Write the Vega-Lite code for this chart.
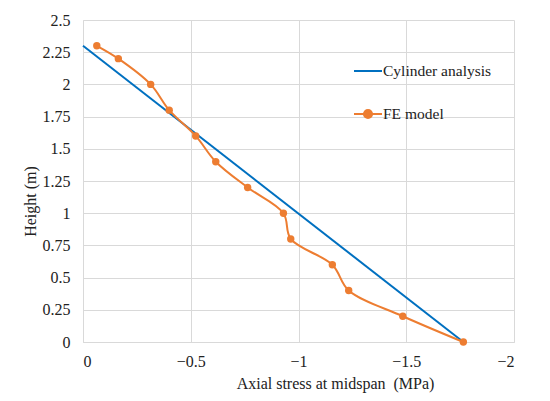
{
  "$schema": "https://vega.github.io/schema/vega-lite/v6.json",
  "width": 431,
  "height": 322,
  "autosize": {"type": "none"},
  "padding": {"left": 83, "top": 20, "right": 36, "bottom": 59},
  "background": "white",
  "config": {
    "view": {"stroke": null},
    "font": "Liberation Serif",
    "axis": {
      "labelFont": "Liberation Serif",
      "labelFontSize": 16,
      "labelColor": "#222222",
      "labelOverlap": false,
      "labelBound": false,
      "titleFont": "Liberation Serif",
      "titleFontSize": 16,
      "titleFontWeight": "normal",
      "titleColor": "#222222",
      "grid": true,
      "gridColor": "#d9d9d9",
      "gridWidth": 1,
      "domainColor": "#d9d9d9",
      "ticks": false,
      "tickSize": 0
    }
  },
  "data": {
    "values": [
      {"series": "Cylinder analysis", "stress": 0, "height": 2.3},
      {"series": "Cylinder analysis", "stress": -1.765, "height": 0},
      {"series": "FE model", "stress": -0.064, "height": 2.3},
      {"series": "FE model", "stress": -0.164, "height": 2.2},
      {"series": "FE model", "stress": -0.314, "height": 2.0},
      {"series": "FE model", "stress": -0.4, "height": 1.8},
      {"series": "FE model", "stress": -0.523, "height": 1.6},
      {"series": "FE model", "stress": -0.616, "height": 1.4},
      {"series": "FE model", "stress": -0.764, "height": 1.2},
      {"series": "FE model", "stress": -0.93, "height": 1.0},
      {"series": "FE model", "stress": -0.964, "height": 0.8},
      {"series": "FE model", "stress": -1.157, "height": 0.6},
      {"series": "FE model", "stress": -1.233, "height": 0.4},
      {"series": "FE model", "stress": -1.484, "height": 0.2},
      {"series": "FE model", "stress": -1.765, "height": 0}
    ]
  },
  "encoding": {
    "x": {
      "field": "stress",
      "type": "quantitative",
      "scale": {"domain": [0, -2], "nice": false, "zero": false},
      "axis": {
        "values": [0, -0.5, -1, -1.5, -2],
        "format": ".2~f",
        "labelPadding": 11,
        "title": "Axial stress at midspan\u00a0 (MPa)",
        "titleX": 252,
        "titleY": 41,
        "titleBaseline": "middle",
        "titleAnchor": null
      }
    },
    "y": {
      "field": "height",
      "type": "quantitative",
      "scale": {"domain": [0, 2.5], "nice": false, "zero": false},
      "axis": {
        "values": [0, 0.25, 0.5, 0.75, 1, 1.25, 1.5, 1.75, 2, 2.25, 2.5],
        "format": ".2~f",
        "labelPadding": 13,
        "title": "Height (m)",
        "titleX": -53,
        "titleY": 181,
        "titleAlign": "center",
        "titleBaseline": "middle",
        "titleAngle": 270
      }
    }
  },
  "layer": [
    {
      "mark": {"type": "line", "interpolate": "catmull-rom", "strokeWidth": 2},
      "encoding": {
        "color": {
          "field": "series",
          "type": "nominal",
          "scale": {"domain": ["Cylinder analysis", "FE model"], "range": ["#0070C0", "#ED7D31"]},
          "legend": {
            "orient": "none",
            "legendX": 270,
            "legendY": 36,
            "title": null,
            "padding": 0,
            "labelFont": "Liberation Serif",
            "labelFontSize": 15.5,
            "labelColor": "#222222",
            "labelOffset": 0,
            "symbolType": "stroke",
            "symbolSize": 784,
            "symbolStrokeWidth": 2,
            "rowPadding": 19,
            "encode": {
              "symbols": {
                "update": {
                  "shape": {"signal": "datum.value === 'FE model' ? 'M-1,0H1M0.29,0A0.29,0.29,0,1,1,-0.29,0A0.29,0.29,0,1,1,0.29,0Z' : 'stroke'"},
                  "fill": {"signal": "datum.value === 'FE model' ? '#ED7D31' : 'transparent'"}
                }
              }
            }
          }
        }
      }
    },
    {
      "transform": [{"filter": "datum.series === 'FE model'"}],
      "mark": {"type": "point", "filled": true, "size": 55, "opacity": 1, "color": "#ED7D31"}
    }
  ]
}
